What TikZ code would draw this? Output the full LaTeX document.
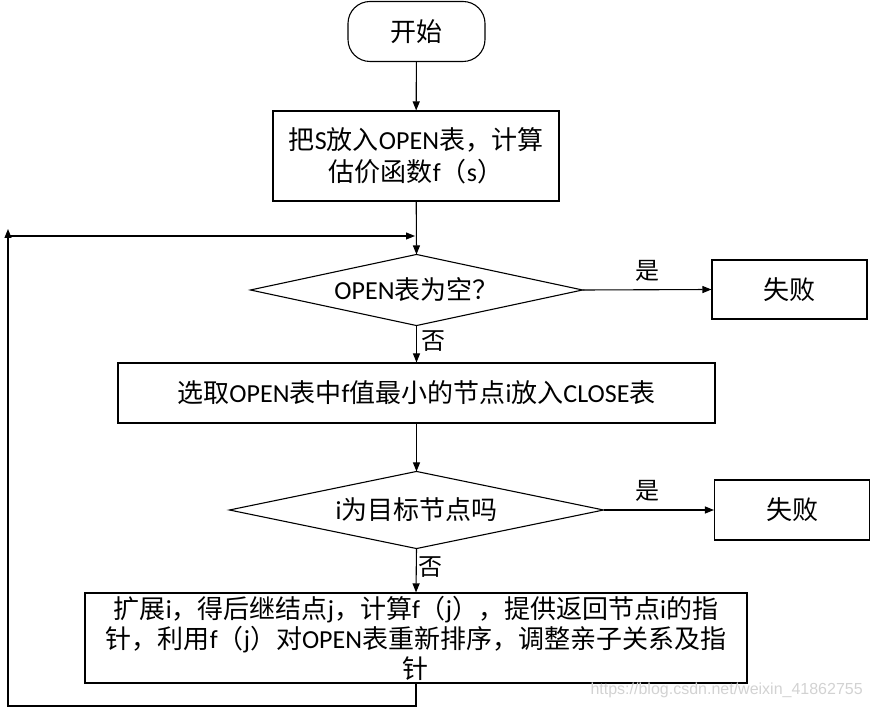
\documentclass[tikz,border=0pt]{standalone}
\usepackage{fontspec}
\setmainfont{Noto Sans CJK SC}
\newfontfamily\latf{Carlito}
\newfontfamily\wmf{Liberation Sans}
\newcommand\lt[1]{{\latf #1}}
\usetikzlibrary{arrows.meta}
\begin{document}
\begin{tikzpicture}[x=1pt,y=-1pt,line width=1.1pt,
  >={Triangle[length=9pt,width=7pt]},
  box/.style={draw,rectangle,inner sep=0pt,align=center,font=\fontsize{26}{32}\selectfont},
  dia/.style={rectangle,inner sep=0pt,align=center,font=\fontsize{26}{32}\selectfont},
  lbl/.style={inner sep=0pt,font=\fontsize{24}{24}\selectfont}]
\useasboundingbox (0,0) rectangle (871,708);

\node[box,rounded corners=22pt,minimum width=137pt,minimum height=60pt] (start) at (416.5,31.5) {开始};
\node[box,minimum width=286pt,minimum height=90pt] (b1) at (416,156) {把\lt{S}放入\lt{OPEN}表，计算\\估价函数\lt{f}（\lt{s}）};
\node[dia,minimum width=331pt,minimum height=70pt] (d1) at (416.5,290) {\lt{OPEN}表为空？};
\draw (d1.west) -- (d1.north) -- (d1.east) -- (d1.south) -- cycle;
\node[box,minimum width=155pt,minimum height=59pt] (f1) at (789.5,289.5) {失败};
\node[box,minimum width=597pt,minimum height=60pt] (b2) at (416.5,393) {选取\lt{OPEN}表中\lt{f}值最小的节点\lt{i}放入\lt{CLOSE}表};
\node[dia,minimum width=373pt,minimum height=76pt] (d2) at (416.5,510) {\lt{i}为目标节点吗};
\draw (d2.west) -- (d2.north) -- (d2.east) -- (d2.south) -- cycle;
\node[box,minimum width=155pt,minimum height=60pt] (f2) at (792,510) {失败};
\node[box,minimum width=662pt,minimum height=90pt,font=\fontsize{26}{30}\selectfont] (b3) at (416,638) {扩展\lt{i}，得后继结点\lt{j}，计算\lt{f}（\lt{j}），提供返回节点\lt{i}的指\\针，利用\lt{f}（\lt{j}）对\lt{OPEN}表重新排序，调整亲子关系及指\\针};

\draw[->] (start) -- (b1);
\draw[->] (b1) -- (d1.north);
\draw[->] (d1.east) -- node[lbl,above=8pt] {是} (f1.west);
\draw[->] (d1.south) -- node[lbl,pos=0.42,anchor=west,xshift=4pt] {否} (b2.north);
\draw[->] (b2) -- (d2.north);
\draw[->] (d2.east) -- node[lbl,pos=0.4,above=8pt] {是} (f2.west);
\draw[->] (d2.south) -- node[lbl,pos=0.42,anchor=west,xshift=2pt] {否} (b3.north);

\coordinate (lb) at (8,706);
\coordinate (lt) at (8,229);
\coordinate (ls) at (8,236);
\draw[->] (b3.south) -- (b3.south |- lb) -- (lb) -- (lt);
\draw[->,shorten >=1pt] (ls) -- (ls -| b1.south);

\node[font=\wmf\fontsize{16}{16}\selectfont,text=gray!35,anchor=west,inner sep=0pt] (wm) at (590,690) {https://blog.csdn.net/weixin\_41862755};
\end{tikzpicture}
\end{document}
